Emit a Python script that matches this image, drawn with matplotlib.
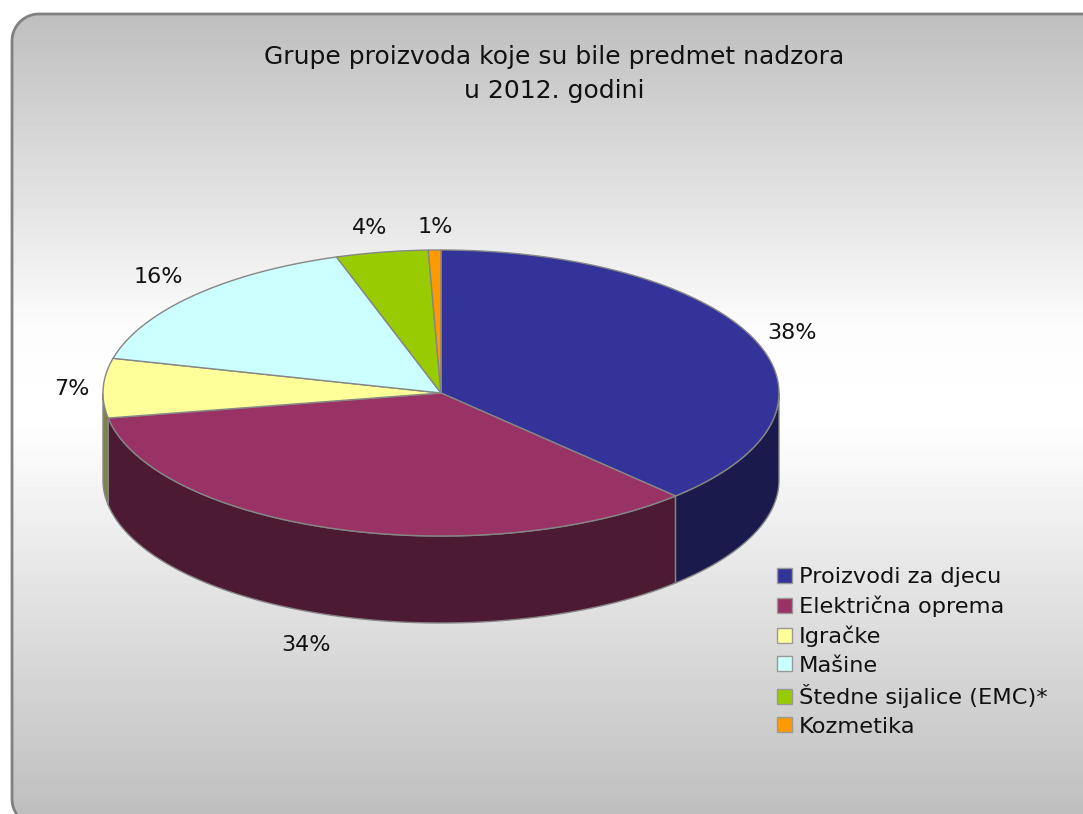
#! /usr/bin/env python3
import numpy as np
from matplotlib import pyplot as plt
from matplotlib.patches import Patch, Polygon

title = "Grupe proizvoda koje su bile predmet nadzora\nu 2012. godini"
categories = ["Proizvodi za djecu", "Električna oprema", "Igračke", "Mašine",
              "Štedne sijalice (EMC)*", "Kozmetika"]
shares = [37.8, 34.4, 6.7, 16.1, 4.4, 0.6]
colors = ["#333399", "#993366", "#FFFF99", "#CCFFFF", "#99CC00", "#FF9900"]
side_colors = ["#1A1A4D", "#4D1A33", "#80804D", "#668080", "#4D6600", "#804D00"]

label_xy = [(792, 333), (306, 645), (72, 389), (158, 277), (370, 228), (435, 227)]

CX, CY = 441, 393
RX, RY = 338, 143
DEPTH = 87
EDGE = "#868686"


def arc(a0, a1, dy=0):
    # angles in degrees clockwise from the top of the ellipse
    t = np.radians(np.linspace(a0, a1, 200))
    return np.column_stack([CX + RX * np.sin(t), CY + dy - RY * np.cos(t)])


def panel_outline(left=12, top=14, right=1100, bottom=826, r=27):
    # sampled corners, bezier corners get mangled when clipped at the canvas edge
    t = np.radians(np.linspace(0, 90, 30))
    tl = np.column_stack([left + r - r * np.cos(t), top + r - r * np.sin(t)])
    bl = np.column_stack([left + r - r * np.sin(t), bottom - r + r * np.cos(t)])
    return np.vstack([[[right, bottom]], bl, tl, [[right, top]]])


def main():
    plt.rcParams["font.family"] = ["DejaVu Sans"]
    fig = plt.figure(figsize=(10.83, 8.14), dpi=100)
    ax = fig.add_axes([0, 0, 1, 1])
    ax.set_xlim(0, 1083)
    ax.set_ylim(814, 0)
    ax.axis("off")

    # background panel with vertical gray-white-gray gradient
    yy = np.arange(0, 814)
    shade = np.interp(yy, [13, 330, 420, 824], [0.745, 0.99, 1.0, 0.74])
    panel = Polygon(panel_outline(), closed=True, fc="none", ec="#808080", lw=2, zorder=2)
    ax.add_patch(panel)
    img = ax.imshow(shade[:, None], cmap="gray", vmin=0, vmax=1, extent=(0, 1083, 814, 0),
                    aspect="auto", zorder=1)
    img.set_clip_path(panel)

    edges = np.concatenate([[0], np.cumsum(shares)]) / sum(shares) * 360

    # side wall, only the front half of the ellipse shows
    for i in range(len(shares)):
        a0, a1 = max(edges[i], 90), min(edges[i + 1], 270)
        if a1 <= a0:
            continue
        pts = np.vstack([arc(a0, a1), arc(a1, a0, DEPTH)])
        ax.add_patch(Polygon(pts, closed=True, fc=side_colors[i], ec=EDGE, lw=1, zorder=3))

    # top face
    for i in range(len(shares)):
        pts = np.vstack([[CX, CY], arc(edges[i], edges[i + 1])])
        ax.add_patch(Polygon(pts, closed=True, fc=colors[i], ec=EDGE, lw=1, zorder=4))

    for val, (x, y) in zip(shares, label_xy):
        ax.text(x, y, f"{val:.0f}%", ha="center", va="center", fontsize=16, color="#111111", zorder=5)

    ax.text(554, 74, title, ha="center", va="center", fontsize=18, linespacing=1.5,
            color="#111111", zorder=5)

    handles = [Patch(fc=c, ec="#999999", lw=1) for c in colors]
    ax.legend(handles, categories, loc="upper left", bbox_to_anchor=(777 / 1083, 1 - 567 / 814),
              bbox_transform=fig.transFigure, frameon=False, fontsize=16.2, handlelength=0.65,
              handleheight=0.65, handletextpad=0.32, labelspacing=0.38, borderpad=0, borderaxespad=0,
              labelcolor="#111111").set_zorder(5)

    fig.savefig("out.png", dpi=100)


if __name__ == '__main__':
    main()
